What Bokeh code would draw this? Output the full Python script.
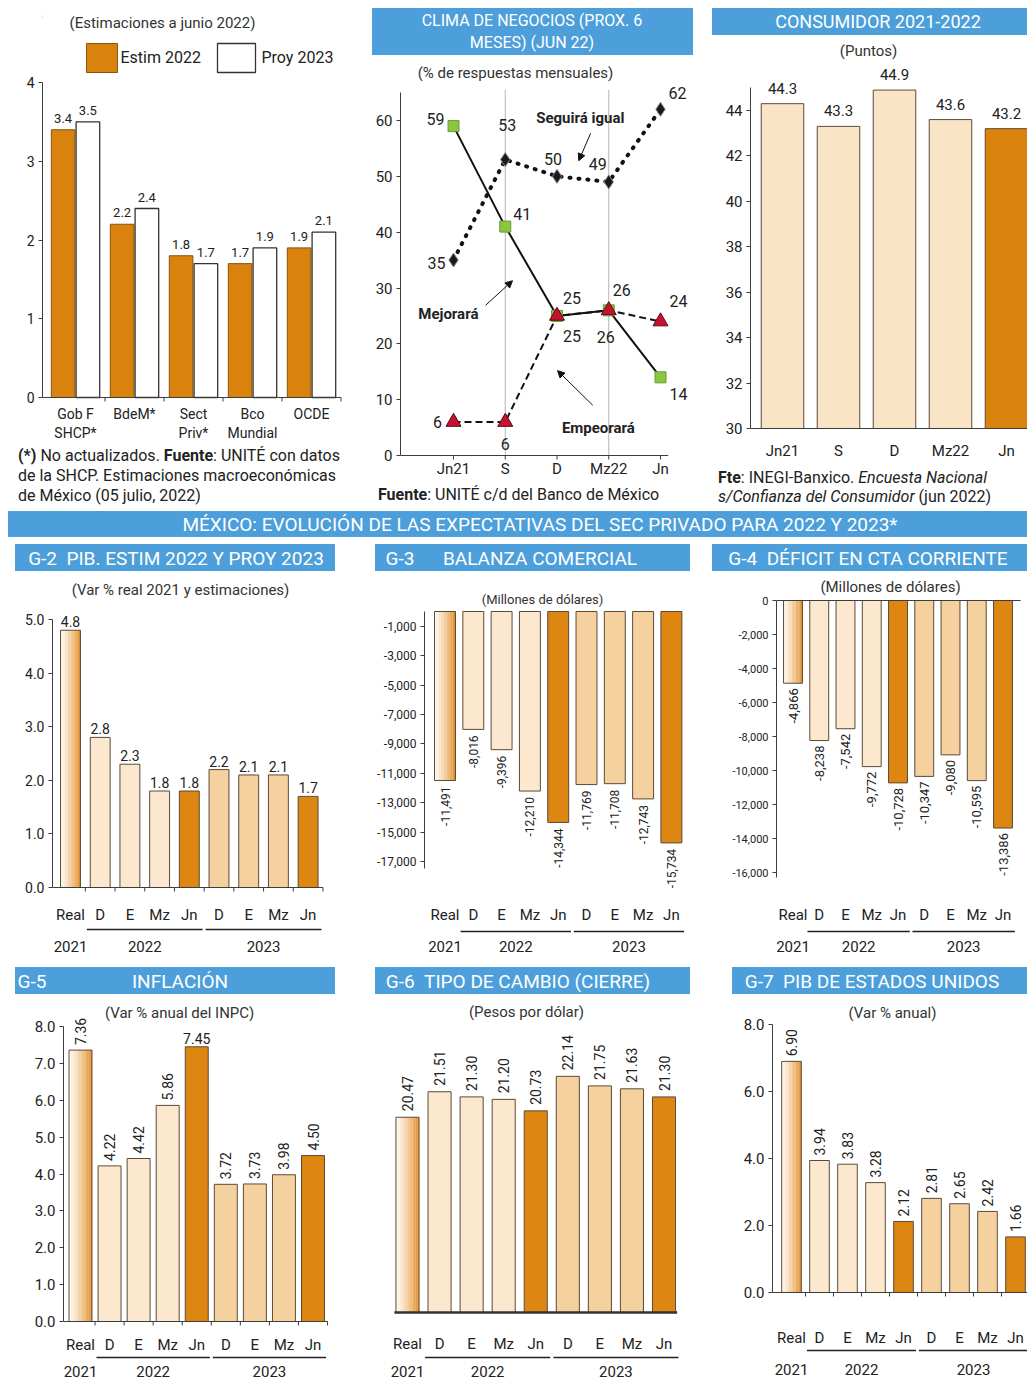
import numpy as np
from bokeh.plotting import figure
from bokeh.models import Range1d, FixedTicker, NumeralTickFormatter, Arrow, NormalHead, Div
from bokeh.layouts import column, row
from bokeh.embed import file_html
from bokeh.resources import INLINE
from bokeh.core.properties import value

# ---------------- DATA ----------------
pib_inst = ["Gob F\nSHCP*", "BdeM*", "Sect\nPriv*", "Bco\nMundial", "OCDE"]
pib_estim_2022 = [3.4, 2.2, 1.8, 1.7, 1.9]
pib_proy_2023 = [3.5, 2.4, 1.7, 1.9, 2.1]
pib_ticks = [0, 1, 2, 3, 4]

clima_months = ["Jn21", "S", "D", "Mz22", "Jn"]
clima_mejorara = [59, 41, 25, 26, 14]
clima_seguira = [35, 53, 50, 49, 62]
clima_empeorara = [6, 6, 25, 26, 24]
clima_ticks = [0, 10, 20, 30, 40, 50, 60]

cons_months = ["Jn21", "S", "D", "Mz22", "Jn"]
cons_values = [44.3, 43.3, 44.9, 43.6, 43.2]
cons_ticks = [30, 32, 34, 36, 38, 40, 42, 44]

exp_labels = ["Real", "D", "E", "Mz", "Jn", "D", "E", "Mz", "Jn"]
exp_years = ["2021", "2022", "2022", "2022", "2022", "2023", "2023", "2023", "2023"]

g2_pib = [4.8, 2.8, 2.3, 1.8, 1.8, 2.2, 2.1, 2.1, 1.7]
g2_ticks = [0, 1, 2, 3, 4, 5]
g3_balanza = [-11491, -8016, -9396, -12210, -14344, -11769, -11708, -12743, -15734]
g3_ticks = [-1000, -3000, -5000, -7000, -9000, -11000, -13000, -15000, -17000]
g4_deficit = [-4866, -8238, -7542, -9772, -10728, -10347, -9080, -10595, -13386]
g4_ticks = [0, -2000, -4000, -6000, -8000, -10000, -12000, -14000, -16000]
g5_inflacion = [7.36, 4.22, 4.42, 5.86, 7.45, 3.72, 3.73, 3.98, 4.50]
g5_ticks = [0, 1, 2, 3, 4, 5, 6, 7, 8]
g6_cambio = [20.47, 21.51, 21.30, 21.20, 20.73, 22.14, 21.75, 21.63, 21.30]
g7_pib_eu = [6.90, 3.94, 3.83, 3.28, 2.12, 2.81, 2.65, 2.42, 1.66]
g7_ticks = [0, 2, 4, 6, 8]

# ---------------- STYLE ----------------
FONT = "Roboto"
BLUE = "#4c9fda"
ORANGE = "#d9820e"
DARK = "#de8612"
CREAM = "#fbe8ce"
TAN = "#f5d19f"
CONS_CREAM = "#f9e4c6"
OUTLINE = "#5b4a38"
AXIS = "#3d3d3d"
INK = "#222222"
SUB = "#333333"


def xr(W, l, r, v0, p0, v1, p1):
    s = (p1 - p0) / (v1 - v0)
    return Range1d(v0 - (p0 - l) / s, v0 + (W - r - p0) / s)


def yr(H, v0, p0, v1, p1):
    s = (p0 - p1) / (v1 - v0)
    return Range1d(v0 - (H - p0) / s, v0 + p0 / s)


def make_fig(W, H, l, r, xrange_, yrange_, yaxis=True):
    p = figure(width=W, height=H, x_range=xrange_, y_range=yrange_,
               x_axis_type=None, y_axis_type=("linear" if yaxis else None),
               toolbar_location=None, output_backend="svg",
               min_border_left=l, min_border_right=r, min_border_top=0, min_border_bottom=0)
    p.outline_line_color = None
    p.background_fill_color = "white"
    p.border_fill_color = "white"
    p.grid.visible = False
    p.extra_x_ranges = {"px": Range1d(l, W - r)}
    p.extra_y_ranges = {"px": Range1d(H, 0)}
    return p


def style_yaxis(p, ticks, bounds, fmt, size):
    ax = p.yaxis[0]
    ax.ticker = FixedTicker(ticks=ticks)
    ax.bounds = bounds
    ax.formatter = NumeralTickFormatter(format=fmt)
    ax.axis_line_color = AXIS
    ax.axis_line_width = 1
    ax.major_tick_line_color = AXIS
    ax.major_tick_in = 0
    ax.major_tick_out = 4
    ax.minor_tick_line_color = None
    ax.major_label_text_font = FONT
    ax.major_label_text_font_size = size
    ax.major_label_text_color = INK
    ax.major_label_standoff = 4


def txt(p, xs, ys, texts, size, xn="default", yn="default", align="center", base="middle",
        color=INK, font=FONT, style="normal", angle=0.0, xo=0, yo=0):
    p.text(x=list(xs), y=list(ys), text=list(texts), x_range_name=xn, y_range_name=yn,
           text_font=value(font), text_font_size=size, text_align=align, text_baseline=base,
           text_color=color, text_font_style=style, angle=angle, x_offset=xo, y_offset=yo,
           text_line_height=1.2)


def banner(W, H, items, ml=0, mt=0):
    spans = "".join(
        '<span style="position:absolute;left:%dpx;top:%dpx;transform:translate(-50%%,-50%%);'
        'white-space:nowrap;font-size:%s;line-height:1;">%s</span>' % (x, y, s, t)
        for t, x, y, s in items)
    html = ('<div style="position:relative;width:%dpx;height:%dpx;background:%s;color:#ffffff;'
            'font-family:Roboto,sans-serif;overflow:hidden;font-size:0;line-height:0;">%s</div>'
            % (W, H, BLUE, spans))
    return Div(text=html, width=W, height=H, margin=(mt, 0, 0, ml))


def note(W, H, html, pl, pt, lh, size=16):
    return Div(text=('<div style="font-family:Roboto,sans-serif;font-size:%dpx;line-height:%dpx;'
                     'color:#222;padding-left:%dpx;padding-top:%dpx;white-space:nowrap;">%s</div>'
                     % (size, lh, pl, pt, html)), width=W, height=H, margin=0)


def grad_bar(p, x, top, bottom, width, n=14):
    c0 = np.array([255, 249, 238], dtype=float)
    c1 = np.array([226, 140, 38], dtype=float)
    ts = (np.arange(n) + 0.5) / n
    cols = ["#%02x%02x%02x" % tuple(int(round(c)) for c in (c0 + (c1 - c0) * t ** 1.3)) for t in ts]
    w = width / n
    xs = [x - width / 2 + (k + 0.5) * w for k in range(n)]
    p.vbar(x=xs, top=[top] * n, bottom=bottom, width=w * 1.08, fill_color=cols, line_color=None)
    p.vbar(x=[x], top=[top], bottom=bottom, width=width, fill_color=None, line_color=OUTLINE, line_width=1)


def exp_colors():
    cols = []
    for lab, yy in zip(exp_labels, exp_years):
        if lab == "Real":
            cols.append(None)
        elif lab == "Jn":
            cols.append(DARK)
        elif yy == "2022":
            cols.append(CREAM)
        else:
            cols.append(TAN)
    return cols


def exp_panel(W, H, l, r, xmap, ymap, vals, base, bar_w, fmt, mode, lsize, loff,
              rows, sub, axis=None, zero=None, flat=(), baseline_bar=False):
    n = len(vals)
    idx = np.arange(n)
    p = make_fig(W, H, l, r, xr(W, l, r, *xmap), yr(H, *ymap), yaxis=axis is not None)
    if axis is not None:
        style_yaxis(p, *axis)
    cols = exp_colors()
    plain = [i for i in range(n) if cols[i] is not None]
    p.vbar(x=[int(idx[i]) for i in plain], top=[vals[i] for i in plain], bottom=base, width=bar_w,
           fill_color=[cols[i] for i in plain], line_color=OUTLINE, line_width=1)
    for i in range(n):
        if cols[i] is None:
            grad_bar(p, int(idx[i]), vals[i], base, bar_w)
    if zero is not None:
        x_end, zpy, ticks = zero
        p.segment(x0=[p.x_range.start], y0=[base], x1=[x_end], y1=[base], line_color=AXIS, line_width=1)
        if ticks:
            p.segment(x0=idx + 0.5, y0=[zpy] * n, x1=idx + 0.5, y1=[zpy + 4] * n,
                      y_range_name="px", line_color=AXIS)
    if baseline_bar:
        p.segment(x0=[-bar_w / 2 - 0.05], y0=[base], x1=[n - 1 + bar_w / 2 + 0.05], y1=[base],
                  line_color="#333333", line_width=2.5)
    texts = [fmt.format(v) for v in vals]
    for i in range(n):
        if mode == "flat" or i in flat:
            txt(p, [i], [vals[i]], [texts[i]], lsize, base="bottom", yo=-3)
        elif mode == "up":
            txt(p, [i], [vals[i]], [texts[i]], lsize, align="left", angle=np.pi / 2, yo=-loff)
        else:
            txt(p, [i], [vals[i]], [texts[i]], lsize, align="right", angle=np.pi / 2, yo=loff)
    py_lab, py_ul, py_yr = rows
    txt(p, idx, [py_lab] * n, exp_labels, "15px", yn="px")
    groups = []
    for yy in exp_years:
        if yy not in groups:
            groups.append(yy)
    centers = []
    for g in groups:
        ii = [i for i in range(n) if exp_years[i] == g]
        centers.append(float(np.mean(ii)))
        if len(ii) > 1:
            p.segment(x0=[min(ii) - 0.45], y0=[py_ul], x1=[max(ii) + 0.45], y1=[py_ul],
                      y_range_name="px", line_color="#222222", line_width=1.5)
    txt(p, centers, [py_yr] * len(groups), groups, "15px", yn="px")
    st, sx, sy, ss = sub
    txt(p, [sx], [sy], [st], ss, xn="px", yn="px", color=SUB)
    return p


# ---------------- PANEL A: PIB estimaciones ----------------
A_W, A_H, A_L, A_R = 360, 437, 42, 10
A_ZERO, A_TOP = 388, 73
bA = banner(345, 3, [], ml=5, mt=6)
pA = make_fig(A_W, A_H, A_L, A_R, xr(A_W, A_L, A_R, 0, 75, 4, 311), yr(A_H, 0, A_ZERO, 4, A_TOP))
style_yaxis(pA, pib_ticks, (0, 4), "0", "14px")
ia = np.arange(len(pib_inst))
pA.vbar(x=ia - 0.21, top=pib_estim_2022, width=0.4, fill_color=ORANGE, line_color="#8a5208", line_width=1)
pA.vbar(x=ia + 0.21, top=pib_proy_2023, width=0.4, fill_color="white", line_color="#333333", line_width=1.3)
txt(pA, ia - 0.21, pib_estim_2022, ["%.1f" % v for v in pib_estim_2022], "13px", base="bottom", yo=-7)
txt(pA, ia + 0.21, pib_proy_2023, ["%.1f" % v for v in pib_proy_2023], "13px", base="bottom", yo=-7)
pA.segment(x0=[pA.x_range.start], y0=[0], x1=[len(ia) - 0.5], y1=[0], line_color=AXIS, line_width=1)
pA.segment(x0=ia + 0.5, y0=[A_ZERO] * len(ia), x1=ia + 0.5, y1=[A_ZERO + 4] * len(ia),
           y_range_name="px", line_color=AXIS)
txt(pA, ia, [396] * len(ia), pib_inst, "14px", yn="px", base="top")
pA.quad(left=[86], right=[117], top=[34], bottom=[63], x_range_name="px", y_range_name="px",
        fill_color=ORANGE, line_color="#8a5208")
pA.quad(left=[217], right=[255], top=[34], bottom=[63], x_range_name="px", y_range_name="px",
        fill_color="white", line_color="#333333", line_width=1.3)
txt(pA, [120], [48], ["Estim 2022"], "16px", xn="px", yn="px", align="left")
txt(pA, [261], [48], ["Proy 2023"], "16px", xn="px", yn="px", align="left")
txt(pA, [162], [13], ["(Estimaciones a junio 2022)"], "15px", xn="px", yn="px", color=SUB)
dA = note(360, 64, "<b>(*)</b> No actualizados. <b>Fuente</b>: UNITÉ con datos<br>"
                   "de la SHCP. Estimaciones macroeconómicas<br>de México (05 julio, 2022)", 18, 0, 20)
colA = column(bA, pA, dA)

# ---------------- PANEL B: Clima de negocios ----------------
bB = banner(321, 47, [("CLIMA DE NEGOCIOS (PROX. 6", 160, 13, "16px"),
                      ("MESES) (JUN 22)", 160, 35, "16px")], ml=12, mt=8)
B_W, B_H, B_L, B_R = 345, 427, 40, 5
B_ZERO = 400
pB = make_fig(B_W, B_H, B_L, B_R, xr(B_W, B_L, B_R, 0, 93, 4, 300), yr(B_H, 0, B_ZERO, 60, 65))
style_yaxis(pB, clima_ticks, (0, 65), "0", "15px")
ib = np.arange(len(clima_months))
grid_x = [clima_months.index("S"), clima_months.index("Mz22")]
pB.segment(x0=grid_x, y0=[0, 0], x1=grid_x, y1=[65.5, 65.5], line_color="#b5b5b5", line_width=1)
pB.segment(x0=[pB.x_range.start], y0=[0], x1=[len(ib) - 1 + 0.15], y1=[0], line_color=AXIS)
pB.segment(x0=ib, y0=[B_ZERO] * len(ib), x1=ib, y1=[B_ZERO + 4] * len(ib), y_range_name="px", line_color=AXIS)
pB.line(ib, clima_seguira, line_color="#111111", line_width=4, line_dash="1 8", line_cap="round")
pB.line(ib, clima_mejorara, line_color="#111111", line_width=2)
pB.line(ib, clima_empeorara, line_color="#111111", line_width=2, line_dash="7 4")
pB.scatter(ib, clima_seguira, marker="diamond", size=14, fill_color="#1a1a1a", line_color="#888888")
pB.scatter(ib, clima_mejorara, marker="square", size=11, fill_color="#8cc63f", line_color="#6b9a30")
pB.scatter(ib, clima_empeorara, marker="triangle", size=15, fill_color="#c4122f", line_color="#5a0a14")
mej_off = [(-18, -7), (17, -13), (15, 20), (-3, 27), (18, 17)]
seg_off = [(-17, 3), (2, -35), (-4, -17), (-11, -18), (17, -16)]
emp_off = [(-16, 0), (0, 22), (15, -18), (13, -20), (18, -21)]
for series, offs in ((clima_mejorara, mej_off), (clima_seguira, seg_off), (clima_empeorara, emp_off)):
    txt(pB, ib, series, [str(v) for v in series], "16px",
        xo=[o[0] for o in offs], yo=[o[1] for o in offs])
txt(pB, [2.45], [60.4], ["Seguirá igual"], "15px", style="bold")
txt(pB, [-0.1], [25.4], ["Mejorará"], "15px", style="bold")
txt(pB, [2.8], [5.0], ["Empeorará"], "15px", style="bold")
for (x0, y0, x1, y1) in ((2.65, 57.7, 2.42, 52.8), (0.62, 26.9, 1.14, 31.3), (2.69, 9.0, 2.01, 15.2)):
    pB.add_layout(Arrow(end=NormalHead(size=7, fill_color="#111111", line_color="#111111"),
                        x_start=x0, y_start=y0, x_end=x1, y_end=y1, line_color="#111111", line_width=1))
txt(pB, ib, [413] * len(ib), clima_months, "15px", yn="px")
txt(pB, [155], [17], ["(% de respuestas mensuales)"], "15px", xn="px", yn="px", color=SUB)
dB = note(345, 28, "<b>Fuente</b>: UNITÉ c/d del Banco de México", 18, 0, 26)
colB = column(bB, pB, dB)

# ---------------- PANEL C: Consumidor ----------------
bC = banner(315, 27, [("CONSUMIDOR 2021-2022", 166, 14, "18px")], ml=7, mt=8)
C_W, C_H, C_L, C_R = 322, 431, 45, 0
pC = make_fig(C_W, C_H, C_L, C_R, xr(C_W, C_L, C_R, 0, 77, 4, 301), yr(C_H, 30, 393, 44, 75))
style_yaxis(pC, cons_ticks, (30, 45), "0", "15px")
ic = np.arange(len(cons_months))
colsC = [ORANGE if i == len(cons_months) - 1 else CONS_CREAM for i in range(len(cons_months))]
pC.vbar(x=ic, top=cons_values, bottom=30, width=0.76, fill_color=colsC, line_color=OUTLINE, line_width=1)
txt(pC, ic, cons_values, ["%.1f" % v for v in cons_values], "15px", base="bottom", yo=-10)
pC.segment(x0=[pC.x_range.start], y0=[30], x1=[pC.x_range.end], y1=[30], line_color=AXIS)
txt(pC, ic, [415] * len(ic), cons_months, "15px", yn="px")
txt(pC, [163], [15], ["(Puntos)"], "15px", xn="px", yn="px", color=SUB)
dC = note(322, 44, "<b>Fte</b>: INEGI-Banxico. <i>Encuesta Nacional<br>s/Confianza del Consumidor</i> (jun 2022)",
          13, 2, 19)
colC = column(bC, pC, dC)

# ---------------- BIG BANNER ----------------
bBig = banner(1019, 26, [("MÉXICO: EVOLUCIÓN DE LAS EXPECTATIVAS DEL SEC PRIVADO PARA 2022 Y 2023*",
                          532, 13, "19px")], ml=8, mt=1)

# ---------------- ROW 2 ----------------
BS = "19px"
b2 = banner(320, 27, [("G-2&nbsp;&nbsp;PIB. ESTIM 2022 Y PROY 2023", 161, 14, BS)], ml=15, mt=7)
p2 = exp_panel(360, 393, 52, 28, (0, 70, 8, 307.6), (0, 316, 5, 48), g2_pib, 0, 0.67, "{:.1f}",
               "flat", "14px", 3, (343, 358, 375), ("(Var % real 2021 y estimaciones)", 180, 18, "15px"),
               axis=(g2_ticks, (0, 5), "0.0", "14px"), zero=(8.5, 316, True))
b3 = banner(315, 27, [("G-3", 25, 14, BS), ("BALANZA COMERCIAL", 165, 14, BS)], ml=15, mt=7)
p3 = exp_panel(345, 393, 64, 15, (0, 84.5, 8, 310.9), (0, 40, -17000, 290), g3_balanza, 0, 0.74, "{:,}",
               "down", "12px", 6, (343, 360, 375), ("(Millones de dólares)", 182, 28, "13px"),
               axis=(g3_ticks, (-17500, 0), "0,0", "12px"))
b4 = banner(315, 27, [("G-4&nbsp;&nbsp;DÉFICIT EN CTA CORRIENTE", 156, 14, BS)], ml=7, mt=7)
p4 = exp_panel(322, 393, 71, 0, (0, 87.5, 8, 297.5), (0, 29, -16000, 301), g4_deficit, 0, 0.72, "{:,}",
               "down", "13px", 5, (343, 360, 375), ("(Millones de dólares)", 185, 15, "15px"),
               axis=(g4_ticks, (-16300, 0), "0,0", "11px"), zero=(8.67, 29, False))

# ---------------- ROW 3 ----------------
b5 = banner(320, 27, [("G-5", 17, 14, BS), ("INFLACIÓN", 165, 14, BS)], ml=15, mt=3)
p5 = exp_panel(360, 390, 63, 20, (0, 80, 8, 312.5), (0, 327, 8, 32), g5_inflacion, 0, 0.79, "{:.2f}",
               "up", "14px", 5, (350, 363, 377), ("(Var % anual del INPC)", 179, 18, "15px"),
               axis=(g5_ticks, (0, 8), "0.0", "15px"), zero=(8.5, 327, True), flat=(4,))
CAMBIO_FLOOR = 12.5
b6 = banner(315, 27, [("G-6&nbsp;&nbsp;TIPO DE CAMBIO (CIERRE)", 143, 14, BS)], ml=15, mt=3)
p6 = exp_panel(345, 390, 0, 0, (0, 47, 8, 303.5), (CAMBIO_FLOOR, 318, CAMBIO_FLOOR + 10, 73), g6_cambio,
               CAMBIO_FLOOR, 0.72, "{:.2f}", "up", "14px", 6, (349, 363, 377),
               ("(Pesos por dólar)", 166, 17, "15px"), baseline_bar=True)
b7 = banner(295, 27, [("G-7&nbsp;&nbsp;PIB DE ESTADOS UNIDOS", 140, 14, BS)], ml=27, mt=3)
p7 = exp_panel(322, 390, 67, 0, (0, 86, 8, 310), (0, 298, 8, 30), g7_pib_eu, 0, 0.7, "{:.2f}",
               "up", "14px", 5, (343, 356, 375), ("(Var % anual)", 187, 18, "15px"),
               axis=(g7_ticks, (0, 8), "0.0", "15px"), zero=(8.5, 298, True))

layout = column(
    row(colA, colB, colC),
    bBig,
    row(column(b2, p2), column(b3, p3), column(b4, p4)),
    row(column(b5, p5), column(b6, p6), column(b7, p7)),
)

open("out.html", "w").write(file_html(layout, INLINE))
